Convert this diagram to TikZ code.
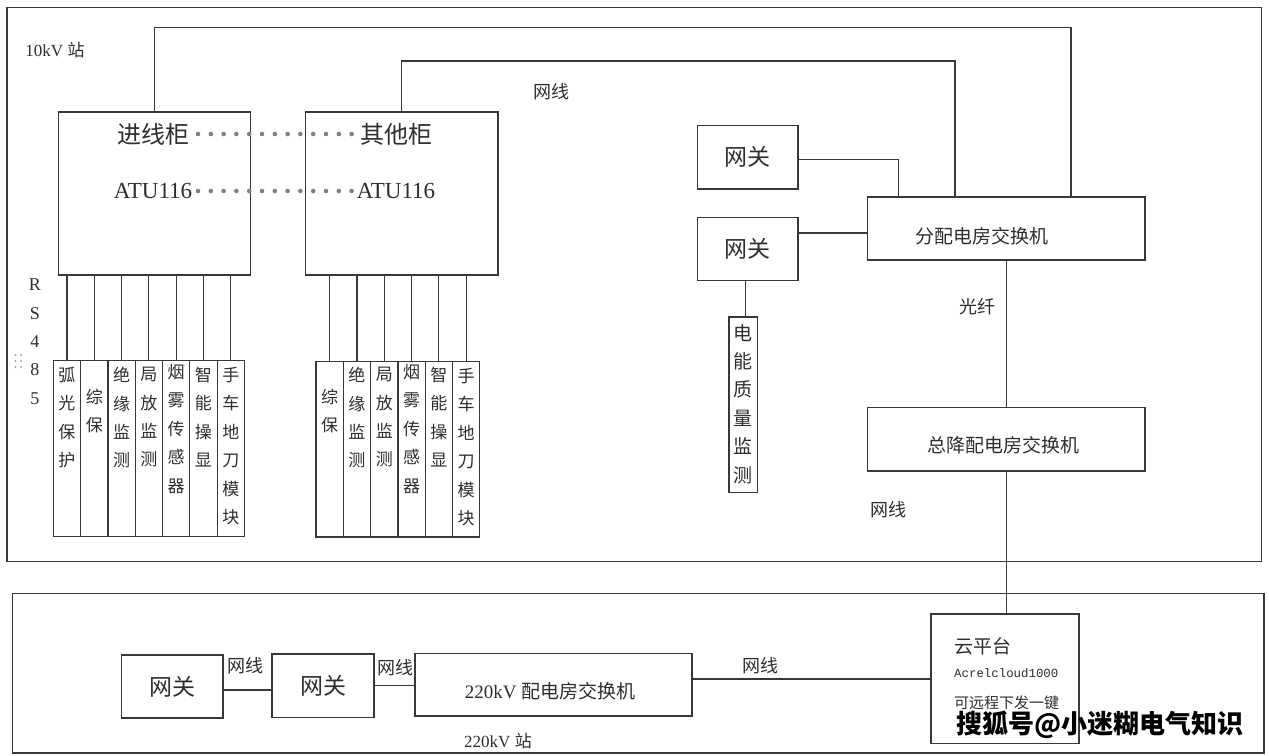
\documentclass[tikz,border=0pt]{standalone}
\usepackage{fontspec}
\setmainfont{Liberation Serif}
\newfontfamily\cjk{Noto Sans CJK SC}
\newfontfamily\monof{Liberation Mono}
\usetikzlibrary{fit}
\newcommand{\fsz}[2]{\fontsize{#1}{#2}\selectfont}
\begin{document}
\begin{tikzpicture}[x=1pt,y=-1pt,
  ln/.style={line width=1.2pt, draw=black!78},
  box/.style={ln, inner sep=0pt},
  txt/.style={inner sep=0pt, text=black!82},
  cn/.style={txt, font=\cjk\fsz{18}{18}},
  big/.style={txt, font=\cjk\fsz{23}{23}},
  col/.style={txt, font=\cjk\fsz{17}{28.4}, align=center, anchor=north},
  dotln/.style={line width=4.6pt, draw=black!50, line cap=round, dash pattern=on 0pt off 12.8pt}
]
\useasboundingbox[fill=white] (0,0) rectangle (1269,755);

% frames
\node[box, fit={(7,7.5) (1261.5,561.5)}] (f10) {};
\node[box, fit={(12.5,593.5) (1264,753)}] (f220) {};
\node[txt, font=\fsz{17}{17}] (l10) at (55,50) {10kV {\cjk 站}};
\node[txt, font=\fsz{17}{17}] (l220) at (498,741.5) {220kV {\cjk 站}};

% cabinets
\node[box, fit={(58.5,112) (250.5,275)}] (jx) {};
\node[box, fit={(305.5,112) (498,275)}] (qt) {};
\node[txt, font=\cjk\fsz{24}{24}] (tjx) at (153,134) {进线柜};
\node[txt, font=\fsz{23}{23}] (ajx) at (153,191) {ATU116};
\node[txt, font=\cjk\fsz{24}{24}] (tqt) at (396,134) {其他柜};
\node[txt, font=\fsz{23}{23}] (aqt) at (396,191) {ATU116};
\coordinate (d1a) at (198,134); \coordinate (d1b) at (352,134);
\coordinate (d2a) at (198,191); \coordinate (d2b) at (352,191);
\draw[dotln] (d1a) -- (d1b);
\draw[dotln] (d2a) -- (d2b);

% RS485
\node[txt, font=\fsz{18}{28.3}, align=center, anchor=north] (rs) at (35,279) {R\\S\\4\\8\\5};
\foreach \dx in {15.5,21} \foreach \dy in {355,361,367}
  \fill[black!35] (\dx,\dy) circle (1.2pt);

% left column group
\foreach \i/\xa/\top/\t in {1/53.3/367/{弧\\光\\保\\护},2/80.6/389/{综\\保},3/107.9/367/{绝\\缘\\监\\测},4/135.2/367/{局\\放\\监\\测},5/162.5/364/{烟\\雾\\传\\感\\器},6/189.8/367/{智\\能\\操\\显},7/217.1/367/{手\\车\\地\\刀\\模\\块}}{
  \node[box, fit={(\xa,360.7) ({\xa+27.3},536.7)}] (L\i) {};
  \node[col] (Lt\i) at ({\xa+13.65},\top) {\t};
  \draw[ln] (L\i.north) -- (L\i.north |- jx.south);
}
% right column group
\foreach \i/\xa/\top/\t in {1/316/389/{综\\保},2/343.3/367/{绝\\缘\\监\\测},3/370.6/367/{局\\放\\监\\测},4/397.9/364/{烟\\雾\\传\\感\\器},5/425.2/367/{智\\能\\操\\显},6/452.5/368/{手\\车\\地\\刀\\模\\块}}{
  \node[box, fit={(\xa,361.5) ({\xa+27.3},537)}] (R\i) {};
  \node[col] (Rt\i) at ({\xa+13.65},\top) {\t};
  \draw[ln] (R\i.north) -- (R\i.north |- qt.south);
}

% right side of 10kV station
\node[box, fit={(697.5,125.5) (798,189)}] (gw1) {};
\node[big] at (gw1.center) {网关};
\node[box, fit={(697.5,217.5) (798,280.5)}] (gw2) {};
\node[big] at (gw2.center) {网关};
\node[box, fit={(867.5,197) (1145,260)}] (fp) {};
\node[txt, font=\cjk\fsz{19}{19}] (tfp) at (981.5,236.5) {分配电房交换机};
\node[box, fit={(867.5,407.5) (1145,471)}] (zj) {};
\node[txt, font=\cjk\fsz{19}{19}] (tzj) at (1003,445.5) {总降配电房交换机};
\node[box, fit={(729,317) (757.5,492.5)}] (pq) {};
\node[txt, font=\cjk\fsz{19}{28.4}, align=center, anchor=north] (tpq) at (743,324) {电\\能\\质\\量\\监\\测};

\coordinate (c1) at (1071,27.7);
\coordinate (c2) at (955,61);
\draw[ln] (jx.north) |- (c1) -- (c1 |- fp.north);
\draw[ln] (qt.north) |- (c2) -- (c2 |- fp.north);
\draw[ln] ([yshift=-2pt]gw1.east) -| ([xshift=-108pt]fp.north);
\draw[ln] ([yshift=16pt]gw2.east) coordinate (g2e) -- (g2e -| fp.west);
\draw[ln] ([xshift=-2pt]gw2.south) -- ([xshift=-2pt]gw2.south |- pq.north);
\draw[ln] (fp.south) -- (zj.north);
\node[cn] (lgx) at (977,306.5) {光纤};
\node[cn] (lwx0) at (551,92) {网线};
\node[cn] (lwx1) at (888,510) {网线};

% 220kV station
\node[box, fit={(121.5,655) (223,718)}] (gwA) {};
\node[big] at (gwA.center) {网关};
\node[box, fit={(272,654) (374,717.5)}] (gwB) {};
\node[big] at (gwB.center) {网关};
\node[box, fit={(415,653.5) (692,716)}] (sw) {};
\node[txt, font=\fsz{19}{19}] (tsw) at (550,691) {220kV {\cjk 配电房交换机}};
\node[box, fit={(931,614) (1079,743.5)}] (cloud) {};
\node[txt, font=\cjk\fsz{19}{19}, anchor=west] (tc1) at (954,646) {云平台};
\node[txt, font=\monof\fsz{12.4}{12.4}, anchor=west] (tc2) at (954,673) {Acrelcloud1000};
\node[txt, font=\cjk\fsz{15}{15}, anchor=west] (tc3) at (954,702.5) {可远程下发一键};

\draw[ln] ([yshift=-3.5pt]gwA.east) coordinate (ga) -- (ga -| gwB.west);
\draw[ln] (gwB.east) -- (gwB.east -| sw.west);
\draw[ln] ([yshift=5.7pt]sw.east) coordinate (se) -- (se -| cloud.west);
\draw[ln] (zj.south) -- (zj.south |- cloud.north);
\node[cn] (lwa) at (245,666) {网线};
\node[cn] (lwb) at (395,668) {网线};
\node[cn] (lwc) at (760,666) {网线};

% watermark
\node[inner sep=0pt, font=\cjk\bfseries\fsz{26}{26}, text=black] (wm) at (1100,725) {搜狐号@小迷糊电气知识};
\end{tikzpicture}
\end{document}
